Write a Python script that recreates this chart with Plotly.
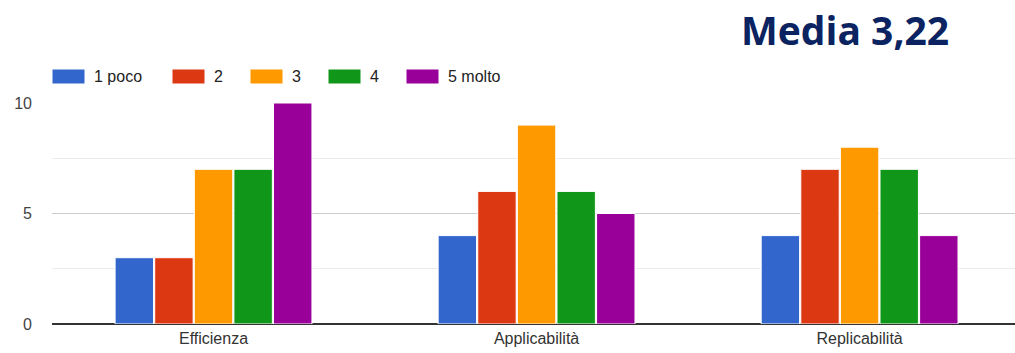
import plotly.graph_objects as go

categories = ["Efficienza", "Applicabilità", "Replicabilità"]
series_names = ["1 poco", "2", "3", "4", "5 molto"]
series_values = [
    [3, 4, 4],
    [3, 6, 7],
    [7, 9, 8],
    [7, 6, 7],
    [10, 5, 4],
]
colors = ["#3366cc", "#dc3912", "#ff9900", "#109618", "#990099"]
y_ticks = [0, 5, 10]
title_text = "Media 3,22"

fig = go.Figure()
for name, vals, c in zip(series_names, series_values, colors):
    fig.add_trace(go.Bar(
        x=categories, y=vals, name=name,
        marker=dict(color=c, line=dict(color="white", width=1)),
        showlegend=False,
    ))

# manual legend (wide swatches like the reference)
PW, PH, B = 963, 221, 29
def py(ypix):
    return (353 - B - ypix) / PH

legend_x = [52, 172, 250, 328, 406]
for lx, name, c in zip(legend_x, series_names, colors):
    fig.add_shape(type="rect", xref="paper", yref="paper",
                  x0=(lx - 52) / PW, x1=(lx - 52 + 33) / PW,
                  y0=py(84), y1=py(69),
                  fillcolor=c, line=dict(color="white", width=1), layer="above")
    fig.add_annotation(xref="paper", yref="paper",
                       x=(lx - 52 + 40) / PW, y=py(76.5),
                       text=name, showarrow=False, xanchor="left", yanchor="middle",
                       font=dict(family="Liberation Sans, Arial", size=16, color="#222"))

fig.add_annotation(xref="paper", yref="paper", x=(845 - 52) / PW, y=py(29),
                   text="<b>" + title_text + "</b>", showarrow=False,
                   xanchor="center", yanchor="middle",
                   font=dict(family="Open Sans", size=39, color="#0b2360"))

fig.update_layout(
    width=1015, height=353,
    margin=dict(l=52, r=0, t=103, b=B),
    paper_bgcolor="white", plot_bgcolor="white",
    barmode="group", bargap=0.387, bargroupgap=0.03,
    xaxis=dict(range=[-0.5, 2.481], showgrid=False, ticks="", showline=False,
               tickfont=dict(family="Liberation Sans, Arial", size=16, color="#333"),
               ticklabelstandoff=3),
    yaxis=dict(range=[0, 10], tickvals=y_ticks, showgrid=True, gridcolor="#cccccc",
               gridwidth=1, zeroline=True, zerolinecolor="#333333", zerolinewidth=1.5,
               minor=dict(tickvals=[2.5, 7.5], showgrid=True, gridcolor="#ebebeb"),
               tickfont=dict(family="Liberation Sans, Arial", size=16, color="#444"),
               ticklabelstandoff=19, ticks=""),
)
fig.write_html("out.html")
